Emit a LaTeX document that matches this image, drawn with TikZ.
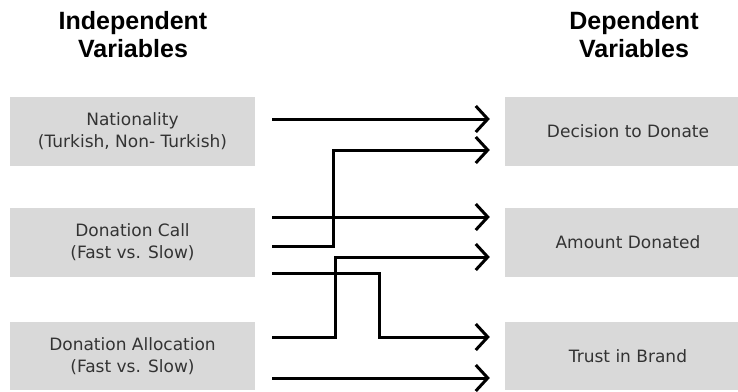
\documentclass[tikz,border=0pt]{standalone}
\usepackage{fontspec}
\setmainfont{DejaVu Sans}
\newfontfamily\headfont{Liberation Sans}
\usetikzlibrary{arrows.meta}
\definecolor{boxgray}{HTML}{D9D9D9}
\definecolor{txtgray}{HTML}{333333}
\tikzset{
  varbox/.style={rectangle, fill=boxgray, draw=none, inner sep=0pt, text=txtgray,
    font=\fontsize{17}{22}\selectfont, align=center},
  headtext/.style={inner sep=0pt, align=center, text=black,
    font=\headfont\bfseries\fontsize{25}{28}\selectfont},
  conn/.style={draw=black, line width=3pt, line join=miter,
    -{Straight Barb[length=12pt,width=26pt,line width=3pt]}}
}
\begin{document}
\begin{tikzpicture}[x=1pt,y=-1pt]
\clip (0,0) rectangle (738,391);
\useasboundingbox (0,0) rectangle (738,391);
\fill[white] (0,0) rectangle (738,391);

\node[headtext] (H1) at (133,35) {Independent\\Variables};
\node[headtext] (H2) at (634,35) {Dependent\\Variables};

\node[varbox, minimum width=245pt, minimum height=69pt] (L1) at (132.5,131.5) {Nationality\\(Turkish, Non- Turkish)};
\node[varbox, minimum width=245pt, minimum height=69pt] (L2) at (132.5,242.5) {Donation Call\\(Fast vs. Slow)};
\node[varbox, minimum width=245pt, minimum height=68pt] (L3) at (132.5,356) {Donation Allocation\\(Fast vs. Slow)};

\node[varbox, minimum width=246pt, minimum height=69pt] (R1) at (628,131.5) {Decision to Donate};
\node[varbox, minimum width=246pt, minimum height=69pt] (R2) at (628,242.5) {Amount Donated};
\node[varbox, minimum width=246pt, minimum height=68pt] (R3) at (628,356) {Trust in Brand};

% Nationality -> Decision
\draw[conn] ([shift={(17pt,12.5pt)}]L1.east) -- ([shift={(-15pt,12.5pt)}]R1.west);
% Donation Call -> Decision
\draw[conn] ([shift={(17pt,-3.5pt)}]L2.east) -- ++(61pt,0pt) |- ([shift={(-15pt,-18.5pt)}]R1.west);
% Donation Call -> Amount
\draw[conn] ([shift={(17pt,25.5pt)}]L2.east) -- ([shift={(-15pt,25.5pt)}]R2.west);
% Donation Allocation -> Amount
\draw[conn] ([shift={(17pt,19pt)}]L3.east) -- ++(63pt,0pt) |- ([shift={(-15pt,-14.5pt)}]R2.west);
% Donation Call -> Trust
\draw[conn] ([shift={(17pt,-30.5pt)}]L2.east) -- ++(107pt,0pt) |- ([shift={(-15pt,19pt)}]R3.west);
% Donation Allocation -> Trust
\draw[conn] ([shift={(17pt,-22pt)}]L3.east) -- ([shift={(-15pt,-22pt)}]R3.west);
\end{tikzpicture}
\end{document}
